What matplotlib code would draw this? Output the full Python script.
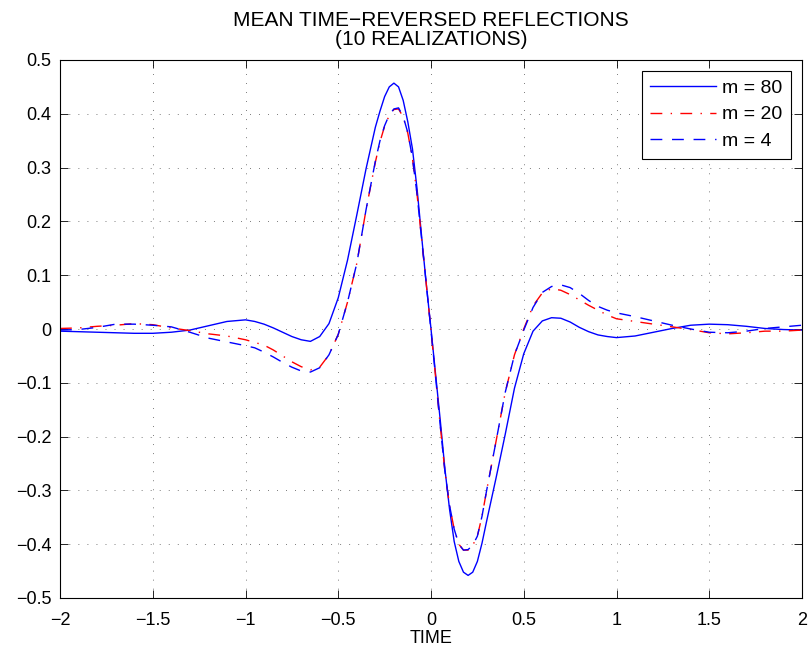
import matplotlib
matplotlib.use("Agg")
import matplotlib.pyplot as plt
import matplotlib.ticker as ticker

plt.rcParams['font.family'] = ['Liberation Sans', 'DejaVu Sans']

# time samples (coarse on the tails, finer around the pulse)
t = [-2.0, -1.9, -1.8, -1.7, -1.6, -1.5, -1.4, -1.3, -1.2, -1.1, -1.0,
     -0.95, -0.9, -0.85, -0.8, -0.75, -0.7, -0.65, -0.6, -0.55, -0.5, -0.45, -0.4, -0.35,
     -0.3, -0.275, -0.25, -0.225, -0.2, -0.175, -0.15, -0.125, -0.1, -0.075, -0.05, -0.025,
     0.0, 0.025, 0.05, 0.075, 0.1, 0.125, 0.15, 0.175, 0.2, 0.225, 0.25, 0.275, 0.3,
     0.35, 0.4, 0.45, 0.5, 0.55, 0.6, 0.65, 0.7, 0.75, 0.8, 0.85, 0.9, 0.95,
     1.0, 1.1, 1.2, 1.3, 1.4, 1.5, 1.6, 1.7, 1.8, 1.9, 2.0]

# m = 80
m80 = [-0.004, -0.005, -0.006, -0.007, -0.008, -0.008, -0.006, -0.002, 0.006, 0.014, 0.017,
       0.014, 0.009, 0.002, -0.006, -0.014, -0.020, -0.023, -0.014, 0.010, 0.058, 0.128, 0.212, 0.298,
       0.375, 0.405, 0.432, 0.450, 0.457, 0.450, 0.425, 0.385, 0.335, 0.260, 0.170, 0.082,
       0.000, -0.085, -0.170, -0.260, -0.335, -0.395, -0.432, -0.452, -0.458, -0.452, -0.432, -0.398, -0.357,
       -0.278, -0.196, -0.110, -0.046, -0.004, 0.015, 0.021, 0.020, 0.013, 0.003, -0.005, -0.011, -0.014,
       -0.016, -0.013, -0.006, 0.001, 0.007, 0.009, 0.008, 0.005, 0.001, -0.001, -0.002]

# m = 20
m20 = [0.001, 0.002, 0.005, 0.007, 0.010, 0.008, 0.002, -0.003, -0.009, -0.013, -0.020,
       -0.025, -0.030, -0.039, -0.050, -0.061, -0.070, -0.076, -0.071, -0.048, -0.010, 0.050, 0.122, 0.222,
       0.310, 0.348, 0.377, 0.397, 0.408, 0.409, 0.394, 0.364, 0.317, 0.250, 0.165, 0.082,
       -0.003, -0.090, -0.180, -0.265, -0.328, -0.372, -0.400, -0.411, -0.411, -0.402, -0.385, -0.348, -0.300,
       -0.210, -0.118, -0.048, 0.000, 0.043, 0.067, 0.075, 0.072, 0.064, 0.054, 0.044, 0.035, 0.026,
       0.019, 0.014, 0.009, 0.004, -0.001, -0.007, -0.009, -0.007, -0.004, -0.004, -0.002]

# m = 4
m4 = [-0.002, -0.001, 0.003, 0.009, 0.009, 0.007, 0.004, -0.006, -0.017, -0.024, -0.031,
      -0.035, -0.043, -0.052, -0.062, -0.071, -0.078, -0.080, -0.072, -0.048, -0.010, 0.050, 0.122, 0.222,
      0.312, 0.350, 0.378, 0.398, 0.409, 0.411, 0.395, 0.365, 0.318, 0.250, 0.165, 0.082,
      -0.003, -0.090, -0.180, -0.265, -0.328, -0.372, -0.400, -0.411, -0.410, -0.402, -0.385, -0.348, -0.300,
      -0.210, -0.118, -0.048, -0.002, 0.040, 0.068, 0.079, 0.082, 0.077, 0.066, 0.053, 0.042, 0.035,
      0.030, 0.023, 0.015, 0.007, 0.000, -0.006, -0.007, -0.004, 0.001, 0.004, 0.007]

labels = ['m = 80', 'm = 20', 'm = 4']

fig = plt.figure(figsize=(8.08, 6.55), dpi=100)
ax = fig.add_axes([60/808, 1 - 598/655, 742/808, 538/655])

ax.plot(t, m80, color=(0, 0, 1), lw=1.0, label=labels[0])
ax.plot(t, m20, color=(1, 0, 0), lw=1.0, dashes=(8.5, 6, 1, 6), label=labels[1])
ax.plot(t, m4, color=(0, 0, 1), lw=1.0, dashes=(8.5, 7), label=labels[2])

ax.set_xlim(-2, 2)
ax.set_ylim(-0.5, 0.5)
ax.xaxis.set_major_locator(ticker.MultipleLocator(0.5))
ax.yaxis.set_major_locator(ticker.MultipleLocator(0.1))
fmt = ticker.FuncFormatter(lambda v, p: ('%g' % round(v, 2)).replace('-', '\u2212'))
ax.xaxis.set_major_formatter(fmt)
ax.yaxis.set_major_formatter(fmt)

ax.grid(True, color='black', lw=0.5, linestyle=(0, (1, 12)))
ax.tick_params(direction='in', length=6, width=0.6, top=True, right=True, labelsize=13, pad=6)
ax.tick_params(axis='x', pad=10)
for s in ax.spines.values():
    s.set_linewidth(0.8)

ax.set_title('MEAN TIME\u2212REVERSED REFLECTIONS\n(10 REALIZATIONS)', fontsize=15, pad=11, linespacing=1.0)
ax.set_xlabel('TIME', fontsize=13, labelpad=1)

leg = ax.legend(loc='upper right', fontsize=14, fancybox=False, edgecolor='black', framealpha=1,
                handlelength=3.4, handletextpad=0.3, borderpad=0.45, borderaxespad=0.55, labelspacing=0.45)
leg.get_frame().set_linewidth(0.8)

fig.savefig('out.png', dpi=100)
